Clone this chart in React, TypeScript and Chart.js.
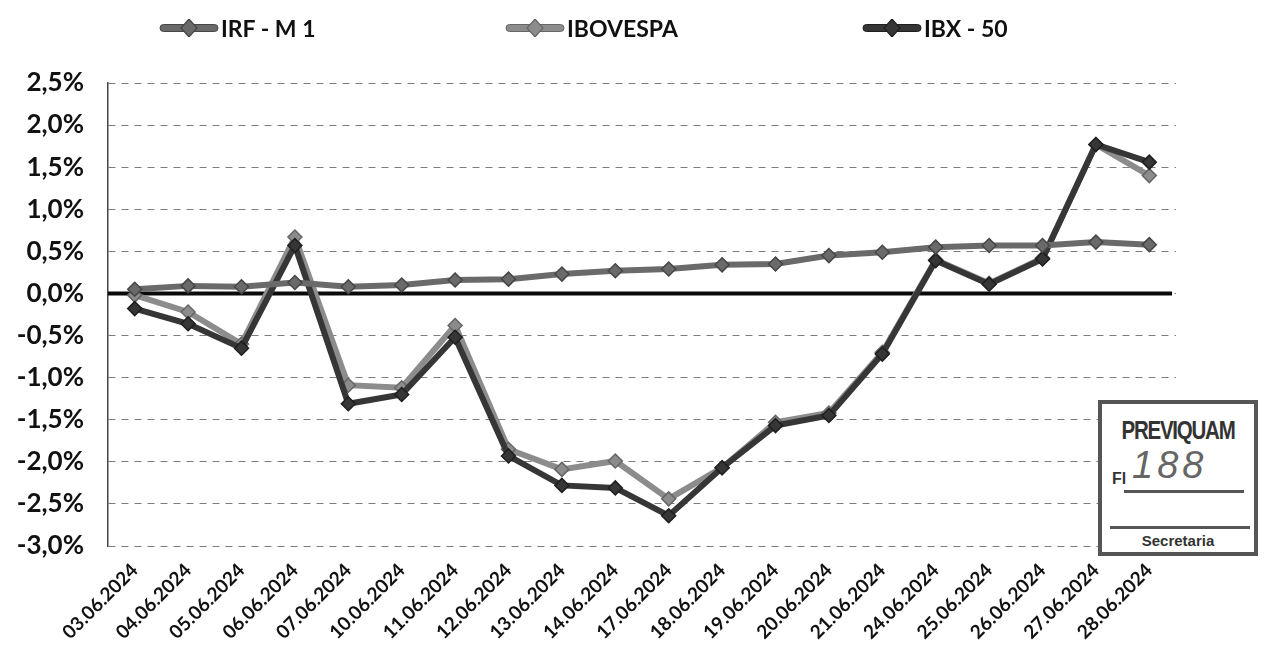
import React, { useEffect, useRef } from "react";
import { Chart, registerables } from "chart.js";

Chart.register(...registerables);

const categories = [
  "03.06.2024", "04.06.2024", "05.06.2024", "06.06.2024", "07.06.2024",
  "10.06.2024", "11.06.2024", "12.06.2024", "13.06.2024", "14.06.2024",
  "17.06.2024", "18.06.2024", "19.06.2024", "20.06.2024", "21.06.2024",
  "24.06.2024", "25.06.2024", "26.06.2024", "27.06.2024", "28.06.2024",
];

const irfM1 = [
  0.05, 0.09, 0.08, 0.13, 0.08, 0.10, 0.16, 0.17, 0.23, 0.27,
  0.29, 0.34, 0.35, 0.45, 0.49, 0.55, 0.57, 0.57, 0.61, 0.58,
];

const ibovespa = [
  -0.02, -0.22, -0.60, 0.67, -1.09, -1.12, -0.38, -1.85, -2.09, -1.99,
  -2.44, -2.07, -1.53, -1.42, -0.70, 0.40, 0.12, 0.42, 1.77, 1.40,
];

const ibx50 = [
  -0.18, -0.36, -0.65, 0.57, -1.31, -1.20, -0.52, -1.93, -2.28, -2.31,
  -2.64, -2.07, -1.57, -1.45, -0.72, 0.39, 0.11, 0.41, 1.77, 1.56,
];

const seriesNames = ["IRF - M 1", "IBOVESPA", "IBX - 50"];
const seriesColors = ["#6a6a6a", "#8c8c8c", "#363636"];
const seriesBorders = ["#464646", "#666666", "#1e1e1e"];

const yMin = -3.0;
const yMax = 2.5;
const yStep = 0.5;

const FONT = "Lato, 'Open Sans', sans-serif";

const zeroLinePlugin = {
  id: "zeroLine",
  beforeDatasetsDraw(chart: any) {
    const ctx = chart.ctx;
    const y = chart.scales.y.getPixelForValue(0);
    const { left, right } = chart.chartArea;
    ctx.save();
    ctx.strokeStyle = "#0a0a0a";
    ctx.lineWidth = 4;
    ctx.beginPath();
    ctx.moveTo(left, y);
    ctx.lineTo(right - 4, y);
    ctx.stroke();
    ctx.restore();
  },
};

function LegendMarker({ color, border }: { color: string; border: string }) {
  return (
    <svg width="60" height="18" style={{ display: "block" }}>
      <rect x="1" y="5.5" width="58" height="7" rx="3.5" fill={color} stroke={border} strokeWidth="1" />
      <polygon points="30,0 38,9 30,18 22,9" fill={color} stroke={border} strokeWidth="1.2" />
    </svg>
  );
}

export default function App() {
  const canvasRef = useRef<HTMLCanvasElement | null>(null);

  useEffect(() => {
    if (!canvasRef.current) return;
    const data = [irfM1, ibovespa, ibx50];
    const orders = [0, 2, 1];
    const chart = new Chart(canvasRef.current, {
      type: "line",
      data: {
        labels: categories,
        datasets: data.map((values, i) => ({
          label: seriesNames[i],
          data: values,
          borderColor: seriesColors[i],
          backgroundColor: seriesColors[i],
          borderWidth: 6,
          pointStyle: "rectRot",
          pointRadius: 7,
          pointBorderColor: seriesBorders[i],
          pointBackgroundColor: seriesColors[i],
          pointBorderWidth: 1.5,
          tension: 0,
          order: orders[i],
          fill: false,
        })),
      },
      options: {
        animation: false,
        responsive: false,
        maintainAspectRatio: false,
        layout: { padding: { top: 75, right: 93, left: 0, bottom: 0 } },
        plugins: {
          legend: { display: false },
          tooltip: { enabled: false },
        },
        scales: {
          x: {
            offset: true,
            grid: { display: false, drawTicks: false },
            border: { display: false },
            ticks: {
              autoSkip: false,
              minRotation: 45,
              maxRotation: 45,
              padding: 13,
              color: "#111",
              font: { family: FONT, size: 19, weight: "bold" },
            },
            afterFit(scale: any) {
              scale.height = 96;
            },
          },
          y: {
            min: yMin,
            max: yMax,
            grid: { color: "#7c7c7c", lineWidth: 1, drawTicks: false },
            border: { display: true, color: "#444", width: 1.5, dash: [7, 6] },
            ticks: {
              stepSize: yStep,
              padding: 24,
              color: "#111",
              font: { family: FONT, size: 26, weight: "bold" },
              callback: (v: any) => Number(v).toFixed(1).replace(".", ",") + "%",
            },
            afterFit(scale: any) {
              scale.width = 100;
            },
          },
        },
      },
      plugins: [zeroLinePlugin],
    } as any);
    return () => chart.destroy();
  }, []);

  const legendLefts = [151, 497, 854];

  return (
    <div style={{ position: "relative", width: 1261, height: 634, background: "#fff" }}>
      <canvas ref={canvasRef} width={1261} height={634} style={{ display: "block" }} />
      {seriesNames.map((name, i) => (
        <div
          key={name}
          style={{
            position: "absolute",
            left: legendLefts[i],
            top: 6,
            display: "flex",
            alignItems: "center",
            fontFamily: FONT,
            fontWeight: "bold",
            fontSize: 23,
            color: "#111",
            whiteSpace: "nowrap",
          }}
        >
          <LegendMarker color={seriesColors[i]} border={seriesBorders[i]} />
          <span style={{ marginLeft: 2 }}>{name}</span>
        </div>
      ))}
      <div
        style={{
          position: "absolute",
          left: 1090,
          top: 392,
          width: 160,
          height: 156,
          border: "4px solid #555",
          background: "#fff",
          fontFamily: "'Liberation Sans Narrow', 'Liberation Sans', sans-serif",
          color: "#333",
          boxSizing: "border-box",
        }}
      >
        <div style={{ fontWeight: "bold", fontSize: 25, textAlign: "center", marginTop: 12, letterSpacing: -1.5, transform: "scaleX(0.82)" }}>
          PREVIQUAM
        </div>
        <div style={{ position: "absolute", left: 10, top: 66, fontWeight: "bold", fontSize: 16 }}>Fl</div>
        <div style={{ position: "absolute", left: 30, top: 40, fontSize: 38, fontStyle: "italic", color: "#666", letterSpacing: 4 }}>188</div>
        <div style={{ position: "absolute", left: 22, top: 86, width: 120, borderTop: "3px solid #555" }} />
        <div style={{ position: "absolute", left: 8, top: 122, width: 140, borderTop: "3px solid #555" }} />
        <div style={{ position: "absolute", left: 0, width: "100%", top: 128, textAlign: "center", fontWeight: "bold", fontSize: 15 }}>
          Secretaria
        </div>
      </div>
    </div>
  );
}
